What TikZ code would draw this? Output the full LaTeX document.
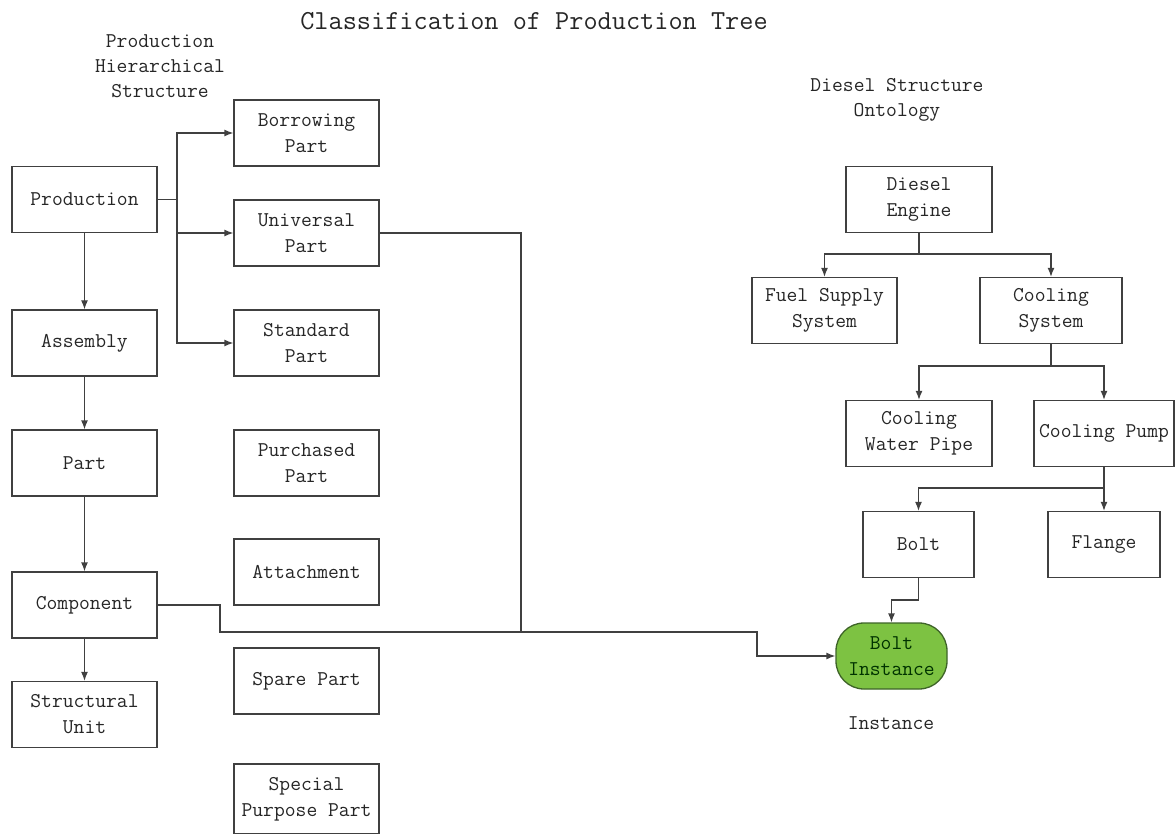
\documentclass[tikz,border=0pt]{standalone}
\usepackage{fontspec}
\usetikzlibrary{arrows.meta}
\definecolor{lc}{HTML}{404040}
\definecolor{gfill}{RGB}{125,194,66}
\definecolor{gdraw}{RGB}{62,100,40}
\begin{document}
\begin{tikzpicture}[x=1pt,y=-1pt,
  box/.style={draw=lc, line width=1.3pt, minimum width=145pt, minimum height=66pt, inner sep=0pt, align=center, font=\ttfamily\fontsize{21}{26}\selectfont, text=black!85},
  lbl/.style={align=center, font=\ttfamily\fontsize{21}{25}\selectfont, text=black!85},
  conn/.style={draw=lc, line width=1.3pt},
  arr/.style={conn, -{Latex[length=9pt,width=7pt]}}]
\useasboundingbox (0,0) rectangle (1175,834);
% titles
\node[font=\ttfamily\fontsize{27.5}{30}\selectfont, text=black!85] (title) at (534,21) {Classification of Production Tree};
\node[lbl] (phs) at (160,66) {Production\\Hierarchical\\Structure};
\node[lbl] (dso) at (897,100) {Diesel Structure\\Ontology};
% left column
\node[box] (prod) at (84.5,199.5) {Production};
\node[box] (asm) at (84.5,343) {Assembly};
\node[box] (part) at (84.5,463) {Part};
\node[box] (comp) at (84.5,605) {Component};
\node[box] (su) at (84.5,714.5) {Structural\\Unit};
% second column
\node[box] (borrow) at (306.5,133) {Borrowing\\Part};
\node[box] (univ) at (306.5,233) {Universal\\Part};
\node[box] (std) at (306.5,343) {Standard\\Part};
\node[box] (purch) at (306.5,463) {Purchased\\Part};
\node[box] (attach) at (306.5,572) {Attachment};
\node[box] (spare) at (306.5,681) {Spare Part};
\node[box, minimum height=70pt] (special) at (306.5,799) {Special\\Purpose Part};
% diesel tree
\node[box, minimum width=146pt] (diesel) at (919,199.5) {Diesel\\Engine};
\node[box] (fuel) at (824.5,310.5) {Fuel Supply\\System};
\node[box, minimum width=142pt] (cool) at (1051,310.5) {Cooling\\System};
\node[box, minimum width=146pt] (cwp) at (919,433.5) {Cooling\\Water Pipe};
\node[box, minimum width=140pt] (cpump) at (1104,433.5) {Cooling Pump};
\node[box, minimum width=111pt] (bolt) at (918.5,544.5) {Bolt};
\node[box, minimum width=112pt] (flange) at (1104,544.5) {Flange};
\node[box, minimum width=111pt, rounded corners=28pt, fill=gfill, draw=gdraw, text=black!80!green] (binst) at (891.5,656) {Bolt\\Instance};
\node[lbl] (inst) at (891,723) {Instance};
% connectors left
\coordinate (pb) at (177,199.5);
\draw[conn] (prod.east) -- (pb);
\draw[arr] (pb) |- (borrow.west);
\draw[arr] (pb) |- (univ.west);
\draw[arr] (pb) |- (std.west);
\draw[arr] (prod.south) -- (asm.north);
\draw[arr] (asm.south) -- (part.north);
\draw[arr] (part.south) -- (comp.north);
\draw[arr] (comp.south) -- (su.north);
\coordinate (c1) at (220,632);
\coordinate (c2) at (757,656);
\coordinate (u1) at (521,632);
\draw[arr] (comp.east) -| (c1) -| (c2) -- (binst.west);
\draw[conn] (univ.east) -| (u1);
% connectors right
\coordinate (d1) at (919,254);
\draw[conn] (diesel.south) -- (d1);
\draw[arr] (d1) -| (fuel.north);
\draw[arr] (d1) -| (cool.north);
\coordinate (s1) at (1051,366);
\draw[conn] (cool.south) -- (s1);
\draw[arr] (s1) -| (cwp.north);
\draw[arr] (s1) -| (cpump.north);
\coordinate (p1) at (1104,488);
\draw[conn] (cpump.south) -- (p1);
\draw[arr] (p1) -| (bolt.north);
\draw[arr] (p1) -- (flange.north);
\coordinate (b1) at (918.5,600);
\draw[conn] (bolt.south) -- (b1);
\draw[arr] (b1) -| (binst.north);
\end{tikzpicture}
\end{document}
